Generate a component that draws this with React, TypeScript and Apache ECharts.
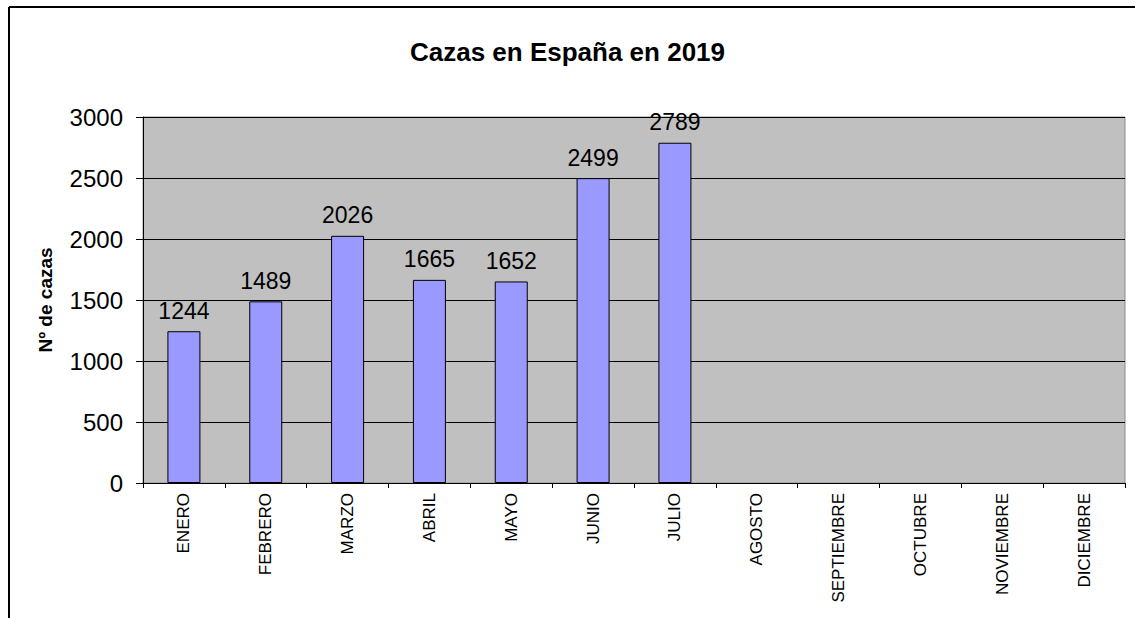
import React, { useEffect, useRef } from "react";
import * as echarts from "echarts";

const categories = ["ENERO", "FEBRERO", "MARZO", "ABRIL", "MAYO", "JUNIO", "JULIO", "AGOSTO", "SEPTIEMBRE", "OCTUBRE", "NOVIEMBRE", "DICIEMBRE"];
const cazas = [1244, 1489, 2026, 1665, 1652, 2499, 2789, null, null, null, null, null];
const titleText = "Cazas en España en 2019";
const yAxisName = "Nº de cazas";

export default function App() {
  const ref = useRef<HTMLDivElement>(null);
  useEffect(() => {
    const chart = echarts.init(ref.current!, null, { renderer: "svg" });
    const font = "'Liberation Sans', Arial, sans-serif";
    chart.setOption({
      animation: false,
      backgroundColor: "#ffffff",
      textStyle: { fontFamily: font },
      title: {
        text: titleText,
        left: "center",
        top: 34,
        textStyle: { fontFamily: font, fontSize: 26, fontWeight: "bold", color: "#000" },
      },
      graphic: [
        { type: "line", shape: { x1: 9, y1: 7, x2: 1135, y2: 7 }, style: { stroke: "#000", lineWidth: 2 } },
        { type: "line", shape: { x1: 9, y1: 7, x2: 9, y2: 618 }, style: { stroke: "#000", lineWidth: 2 } },
      ],
      grid: {
        left: 143,
        top: 117,
        right: 10,
        bottom: 135,
        show: true,
        backgroundColor: "#c0c0c0",
        borderColor: "#8c8c8c",
        borderWidth: 1,
      },
      xAxis: {
        type: "category",
        data: categories,
        boundaryGap: true,
        axisLine: { show: true, lineStyle: { color: "#000", width: 1 } },
        axisTick: { show: true, length: 5, alignWithLabel: false, lineStyle: { color: "#000" } },
        axisLabel: { rotate: 90, fontSize: 17, color: "#000", margin: 10, fontFamily: font, interval: 0 },
        splitLine: { show: false },
      },
      yAxis: {
        type: "value",
        min: 0,
        max: 3000,
        interval: 500,
        name: yAxisName,
        nameLocation: "middle",
        nameGap: 88,
        nameTextStyle: { fontSize: 19, fontWeight: "bold", color: "#000", fontFamily: font },
        axisLine: { show: true, lineStyle: { color: "#000", width: 1 } },
        axisTick: { show: true, length: 7, lineStyle: { color: "#000" } },
        axisLabel: { fontSize: 24, color: "#000", margin: 20, fontFamily: font, formatter: (v: number) => String(v) },
        splitLine: { show: true, lineStyle: { color: "#000", width: 1 } },
      },
      series: [
        {
          type: "bar",
          data: cazas,
          barWidth: 33,
          itemStyle: { color: "#9999ff", borderColor: "#000000", borderWidth: 1 },
          label: { show: true, position: "top", distance: 9, fontSize: 23, color: "#000", fontFamily: font },
        },
      ],
    });
    return () => chart.dispose();
  }, []);
  return <div ref={ref} style={{ position: "fixed", left: 0, top: 0, width: 1135, height: 618 }} />;
}
